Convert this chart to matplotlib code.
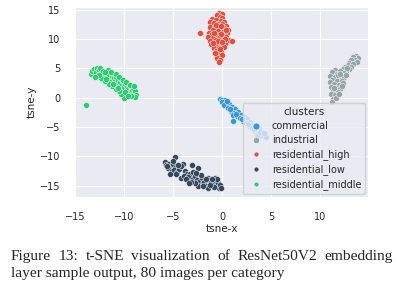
import matplotlib
matplotlib.use("Agg")
import matplotlib.pyplot as plt
from matplotlib.lines import Line2D
import seaborn as sns

# estimated t-SNE coordinates
commercial_x = [-0.3, 0.0, 0.3, -0.1, 0.4, 0.2, 0.7, 0.6, 1.0, 0.9, 1.3, 1.2, 1.6, 1.1, 1.5,
                1.9, 1.1, 1.8, 2.2, 2.1, 2.5, 2.4, 2.8, 2.7, 3.1, 3.0, 3.4, 3.3, 3.7, 3.6,
                4.0, 3.9, 4.3, 4.4, 3.5, 0.5, 0.8, 1.4, 2.0, 2.6, 3.2, 3.8, 4.2]
commercial_y = [-0.2, -0.4, -0.3, -0.8, -0.9, -1.3, -1.1, -1.7, -1.6, -2.2, -2.0, -2.6, -2.4, -3.0, -3.1,
                -2.9, -4.0, -3.5, -3.3, -3.9, -3.7, -4.3, -4.2, -4.8, -4.6, -5.2, -5.0, -5.6, -5.4, -6.0,
                -5.8, -6.4, -6.2, -6.6, -6.5, -0.6, -2.0, -2.8, -3.6, -4.5, -5.3, -5.9, -6.0]

industrial_x = [13.6, 13.8, 13.3, 13.5, 13.1, 13.7, 12.9, 13.3, 12.8, 13.1, 12.5, 12.9, 12.3, 12.6,
                11.5, 12.0, 12.4, 11.2, 11.7, 12.1, 11.0, 11.5, 11.9, 12.4, 11.2, 11.7, 12.2, 11.0,
                11.4, 11.9, 12.3, 11.1, 11.6, 12.0, 11.3, 11.8, 11.1, 11.5, 11.3, 11.2, 11.6, 12.2,
                11.8, 12.7, 12.0, 11.4, 11.9, 12.6]
industrial_y = [7.1, 6.8, 6.9, 6.4, 6.4, 6.1, 6.0, 5.8, 5.5, 5.3, 5.2, 4.9, 4.9, 4.6,
                4.8, 4.5, 4.2, 4.3, 4.1, 3.8, 3.7, 3.5, 3.3, 3.5, 3.1, 2.8, 2.9, 2.6,
                2.3, 2.2, 2.5, 1.8, 1.7, 1.5, 1.2, 1.0, 0.6, 0.4, -0.2, -0.7, -0.1, 2.0,
                3.9, 5.1, 4.0, 1.6, 0.7, 3.9]

res_high_x = [-0.4, -0.1, -0.6, -0.3, 0.0, -1.1, -0.7, -0.2, 0.2, -1.3, -0.9, -0.5, 0.0, 0.4,
              -1.3, -0.8, -0.3, 0.2, 0.6, -1.0, -0.5, 0.1, 0.5, -1.4, -2.3, -1.1, -0.6, -0.1,
              0.4, -1.5, -1.0, -0.4, 0.1, 0.6, 0.95, -1.3, -0.8, -0.2, 0.3, -1.2, -0.6, 0.0,
              -0.9, -0.4, 0.2, -0.7, -0.2, -0.5, -0.1, -0.6, -0.3, -0.4, -0.7, -0.2, 0.4, -0.9,
              -0.2, 0.3, -0.7, -0.5, 0.0, -1.0, -0.3, -0.8]
res_high_y = [14.5, 14.3, 14.1, 13.8, 13.6, 13.4, 13.3, 13.1, 12.9, 12.9, 12.7, 12.6, 12.5, 12.3,
              12.1, 12.0, 11.9, 11.8, 11.6, 11.5, 11.3, 11.2, 11.0, 11.0, 11.0, 10.8, 10.7, 10.6,
              10.4, 10.4, 10.2, 10.1, 9.9, 9.8, 9.6, 9.7, 9.5, 9.4, 9.2, 9.1, 8.9, 8.8,
              8.5, 8.4, 8.6, 8.0, 7.8, 7.4, 7.2, 6.8, 6.5, 6.1, 12.4, 12.2, 11.5, 11.0,
              10.9, 10.0, 9.9, 9.7, 9.5, 9.3, 8.3, 7.6]

res_low_x = [-5.9, -4.85, -5.8, -5.5, -5.3, -5.0, -4.8, -5.6, -5.2, -4.9, -5.4, -4.6, -4.4, -4.0,
             -4.2, -3.15, -2.5, -3.8, -3.6, -4.2, -3.9, -3.3, -3.0, -3.5, -3.0, -2.8, -2.6, -2.3,
             -2.5, -2.1, -2.0, -1.9, -1.7, -1.5, -1.4, -1.45, -1.2, -1.0, -0.8, -0.7, -0.5, -0.4,
             -0.3, -0.9, -2.8, -3.2, -2.2, -1.7, -0.6, -1.1, -5.7, -5.1, -4.5, -3.7, -3.4, -2.7,
             -4.7, -2.0, -1.3, -0.2]
res_low_y = [-10.9, -10.1, -11.5, -11.2, -11.7, -11.3, -11.9, -12.0, -12.4, -12.3, -13.0, -12.7, -12.1, -11.3,
             -11.6, -11.4, -11.9, -12.4, -12.9, -13.6, -13.3, -13.0, -12.6, -13.5, -13.8, -13.3, -14.0, -14.1,
             -15.0, -13.6, -14.6, -14.3, -15.1, -13.6, -14.0, -15.3, -14.4, -14.8, -13.7, -14.2, -14.6, -15.3,
             -14.9, -15.2, -14.6, -14.3, -13.2, -13.9, -13.9, -13.8, -11.7, -10.8, -11.5, -13.9, -14.5, -12.8,
             -13.0, -15.0, -14.9, -15.4]

res_mid_x = [-13.9, -13.4, -13.3, -13.1, -12.9, -12.8, -12.6, -12.5, -12.4, -12.7, -12.3, -12.2, -12.0, -11.9,
             -11.7, -11.8, -11.6, -11.5, -11.4, -11.3, -11.2, -11.1, -11.0, -10.9, -10.8, -10.7, -10.6, -10.5,
             -10.4, -10.3, -10.2, -10.1, -10.0, -9.9, -9.8, -9.7, -9.6, -9.5, -9.4, -9.3, -9.2, -9.1,
             -9.0, -8.9, -8.8, -8.9, -9.3, -9.7, -10.1, -10.4, -10.6, -10.9, -11.3, -11.6, -12.0, -12.4,
             -12.0, -11.4, -10.9, -10.6, -10.2, -9.8, -9.4, -9.0, -12.6, -13.0, -11.9, -11.2, -10.7, -9.9, -9.6]
res_mid_y = [-1.25, 4.1, 4.6, 4.9, 4.3, 5.0, 4.7, 5.1, 4.2, 3.8, 3.2, 4.6, 3.9, 4.4,
             4.8, 3.5, 4.0, 3.1, 2.6, 3.7, 4.0, 3.3, 2.8, 3.5, 2.3, 3.0, 1.9, 2.7,
             3.2, 2.2, 1.5, 2.6, 1.9, 2.4, 1.2, 2.0, 2.3, 1.6, 0.9, 1.9, 1.3, 1.7,
             0.8, 1.2, 0.4, 0.1, 0.3, 0.5, 0.0, 0.6, 1.2, 1.5, 2.0, 2.4, 2.9, 3.4,
             4.3, 4.3, 4.0, 3.5, 3.0, 2.7, 2.2, 2.0, 3.9, 3.6, 3.2, 2.4, 1.7, 0.9, 0.3]

cluster_names = ["commercial", "industrial", "residential_high", "residential_low", "residential_middle"]
cluster_x = [commercial_x, industrial_x, res_high_x, res_low_x, res_mid_x]
cluster_y = [commercial_y, industrial_y, res_high_y, res_low_y, res_mid_y]
palette = ["#3498db", "#95a5a6", "#e74c3c", "#34495e", "#2ecc71"]

caption_line1 = ["Figure", "13:", "t-SNE", "visualization", "of", "ResNet50V2", "embedding"]
caption_line2 = "layer sample output, 80 images per category"

sns.set_style("darkgrid")
plt.rcParams['font.family'] = ['DejaVu Sans']

fig = plt.figure(figsize=(3.97, 2.89), dpi=100)
ax = fig.add_axes([75 / 397, 1 - 197 / 289, 293 / 397, 190 / 289])

for name, xs, ys, col in zip(cluster_names, cluster_x, cluster_y, palette):
    ax.scatter(xs, ys, s=19, color=col, edgecolor="white", linewidth=0.35, label=name, zorder=3)

ax.set_xlim(-15.05, 14.85)
ax.set_ylim(-16.9, 15.45)
ax.set_xticks([-15, -10, -5, 0, 5, 10])
ax.set_yticks([-15, -10, -5, 0, 5, 10, 15])
ax.tick_params(labelsize=7, pad=7, colors=".15")
ax.set_xlabel("tsne-x", fontsize=7.5, labelpad=2)
ax.set_ylabel("tsne-y", fontsize=7.5, labelpad=2)

# legend markers differ slightly in size in the reference
msizes = [5.0, 4.6, 3.6, 3.6, 3.6]
handles = [Line2D([], [], ls="", marker="o", color=c, markeredgecolor="white",
                  markeredgewidth=0.4, markersize=m) for c, m in zip(palette, msizes)]
leg = ax.legend(handles, cluster_names, title="clusters", loc="lower right",
                fontsize=7, title_fontsize=7.5, framealpha=0.8,
                borderaxespad=0.3, handletextpad=0.6, labelspacing=0.42)
leg.set_zorder(5)

# caption, first line justified
serif = "Liberation Serif"
left, right = 11 / 397, 392.5 / 397
y1, y2 = 1 - 260 / 289, 1 - 277 / 289
words = [fig.text(left, y1, w, family=serif, fontsize=11.1, va="baseline") for w in caption_line1]
fig.canvas.draw()
r = fig.canvas.get_renderer()
widths = [t.get_window_extent(r).width / fig.bbox.width for t in words]
gap = (right - left - sum(widths)) / (len(words) - 1)
x = left
for t, w in zip(words, widths):
    t.set_x(x)
    x += w + gap
fig.text(left, y2, caption_line2, family=serif, fontsize=11.1, va="baseline")

fig.savefig("out.png", dpi=100)
